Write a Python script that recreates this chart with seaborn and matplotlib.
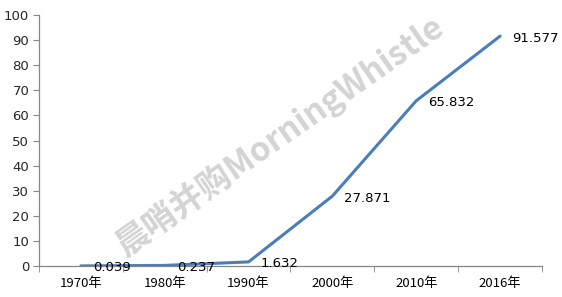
import matplotlib
matplotlib.use("Agg")
import matplotlib.pyplot as plt
import seaborn as sns
import numpy as np
from matplotlib.ticker import FixedLocator

years = ["1970年", "1980年", "1990年", "2000年", "2010年", "2016年"]
values = [0.039, 0.237, 1.632, 27.871, 65.832, 91.577]
value_labels = ["0.039", "0.237", "1.632", "27.871", "65.832", "91.577"]

sns.set_style("white")
plt.rcParams['font.family'] = ['Noto Sans CJK SC', 'DejaVu Sans']

fig = plt.figure(figsize=(5.62, 2.97), dpi=100)
ax = fig.add_axes([39/562, 31/297, 503/562, 251/297])

pos = np.arange(len(years))
sns.lineplot(x=pos, y=values, ax=ax, color="#4A7EBB", linewidth=2.2)

ax.set_xlim(-0.5, len(years) - 0.5)
ax.set_ylim(0, 100)
ax.set_yticks(np.arange(0, 101, 10))
ax.set_xticks(pos)
ax.set_xticklabels(years)
ax.xaxis.set_minor_locator(FixedLocator(np.arange(-0.5, len(years), 1.0)))
ax.tick_params(axis='x', which='major', length=0, labelsize=9.5, pad=8, colors="#000000")
ax.tick_params(axis='x', which='minor', length=4, color="#868686", direction='out', bottom=True)
ax.tick_params(axis='y', length=4, color="#868686", direction='out', left=True, labelsize=9.5, pad=3)
for lab in ax.get_yticklabels():
    lab.set_family(['DejaVu Sans'])
for s in ['top', 'right']:
    ax.spines[s].set_visible(False)
for s in ['left', 'bottom']:
    ax.spines[s].set_color("#868686")
    ax.spines[s].set_linewidth(0.9)
ax.set_xlabel("")
ax.set_ylabel("")

for x, v, t in zip(pos, values, value_labels):
    ax.annotate(t, (x, v), xytext=(12, -2), textcoords='offset pixels',
                ha='left', va='center', fontsize=9.5, color="#000000",
                family=['DejaVu Sans'])

fig.text(279/562, 1 - 136/297, "晨哨并购MorningWhistle", rotation=35,
         ha='center', va='center', fontsize=24, fontweight='bold',
         color="#c9c9c9", alpha=0.8)

fig.savefig("out.png", dpi=100)
